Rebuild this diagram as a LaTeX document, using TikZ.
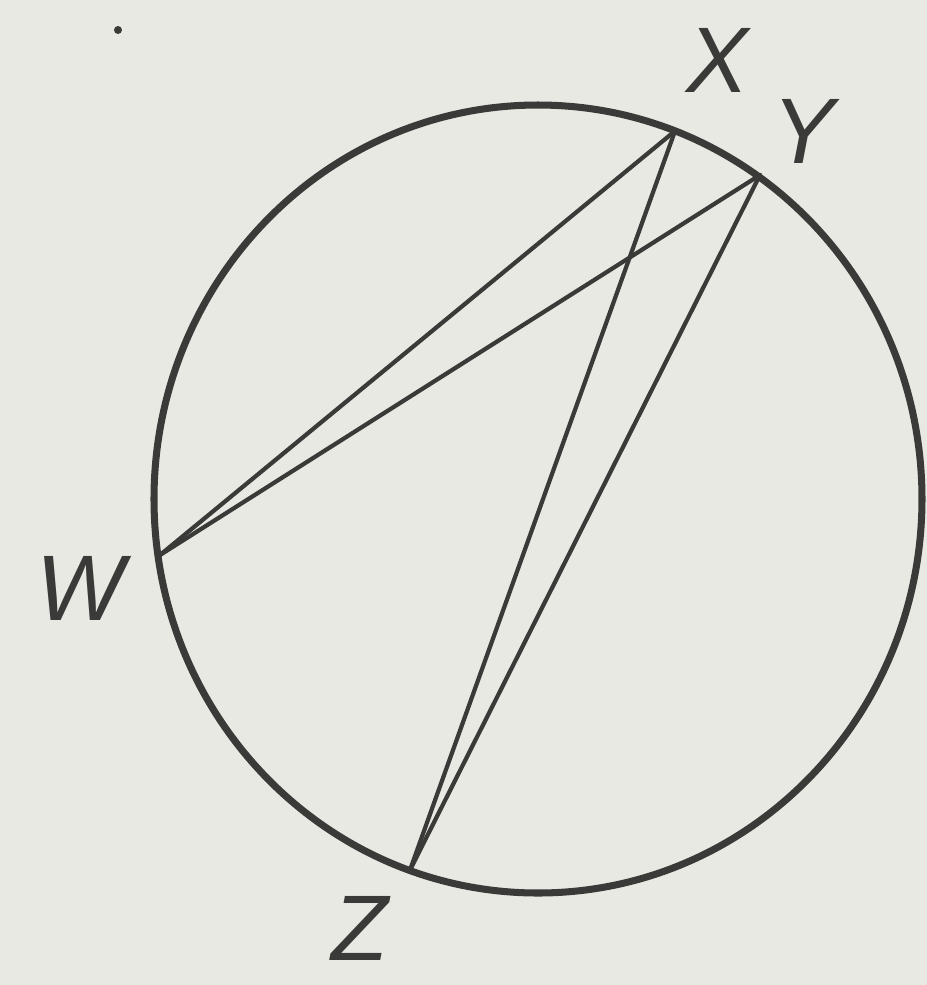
\documentclass[tikz,border=0pt]{standalone}
\usepackage{fontspec}
\setmainfont{Liberation Sans}
\begin{document}
\begin{tikzpicture}[x=0.02cm,y=-0.02cm,
  ink/.style={draw=inkc,line cap=round,line join=round},
  rim/.style={ink,line width=4pt},
  chord/.style={ink,line width=2.4pt},
  lbl/.style={text=inkc,font=\fontsize{53}{56}\selectfont\itshape,inner sep=0pt}]
\definecolor{inkc}{HTML}{3A3A38}
\definecolor{paper}{HTML}{E9E9E4}
\fill[paper] (0,0) rectangle (927,985);
\useasboundingbox (0,0) rectangle (927,985);
\draw[rim] (538,499) ellipse [x radius=384, y radius=394];
\coordinate (X) at (675,131);
\coordinate (Y) at (760,175);
\coordinate (W) at (160,555);
\coordinate (Z) at (410,870);
\draw[chord] (W) -- (X);
\draw[chord] (W) -- (Y);
\draw[chord] (Z) -- (X);
\draw[chord] (Z) -- (Y);
\node[lbl] (lx) at (718,60) {X};
\node[lbl] (ly) at (804,131) {Y};
\node[lbl] (lw) at (80,588) {W};
\node[lbl] (lz) at (360,928) {Z};
\fill[inkc] (118,30) circle [radius=4];
\end{tikzpicture}
\end{document}
